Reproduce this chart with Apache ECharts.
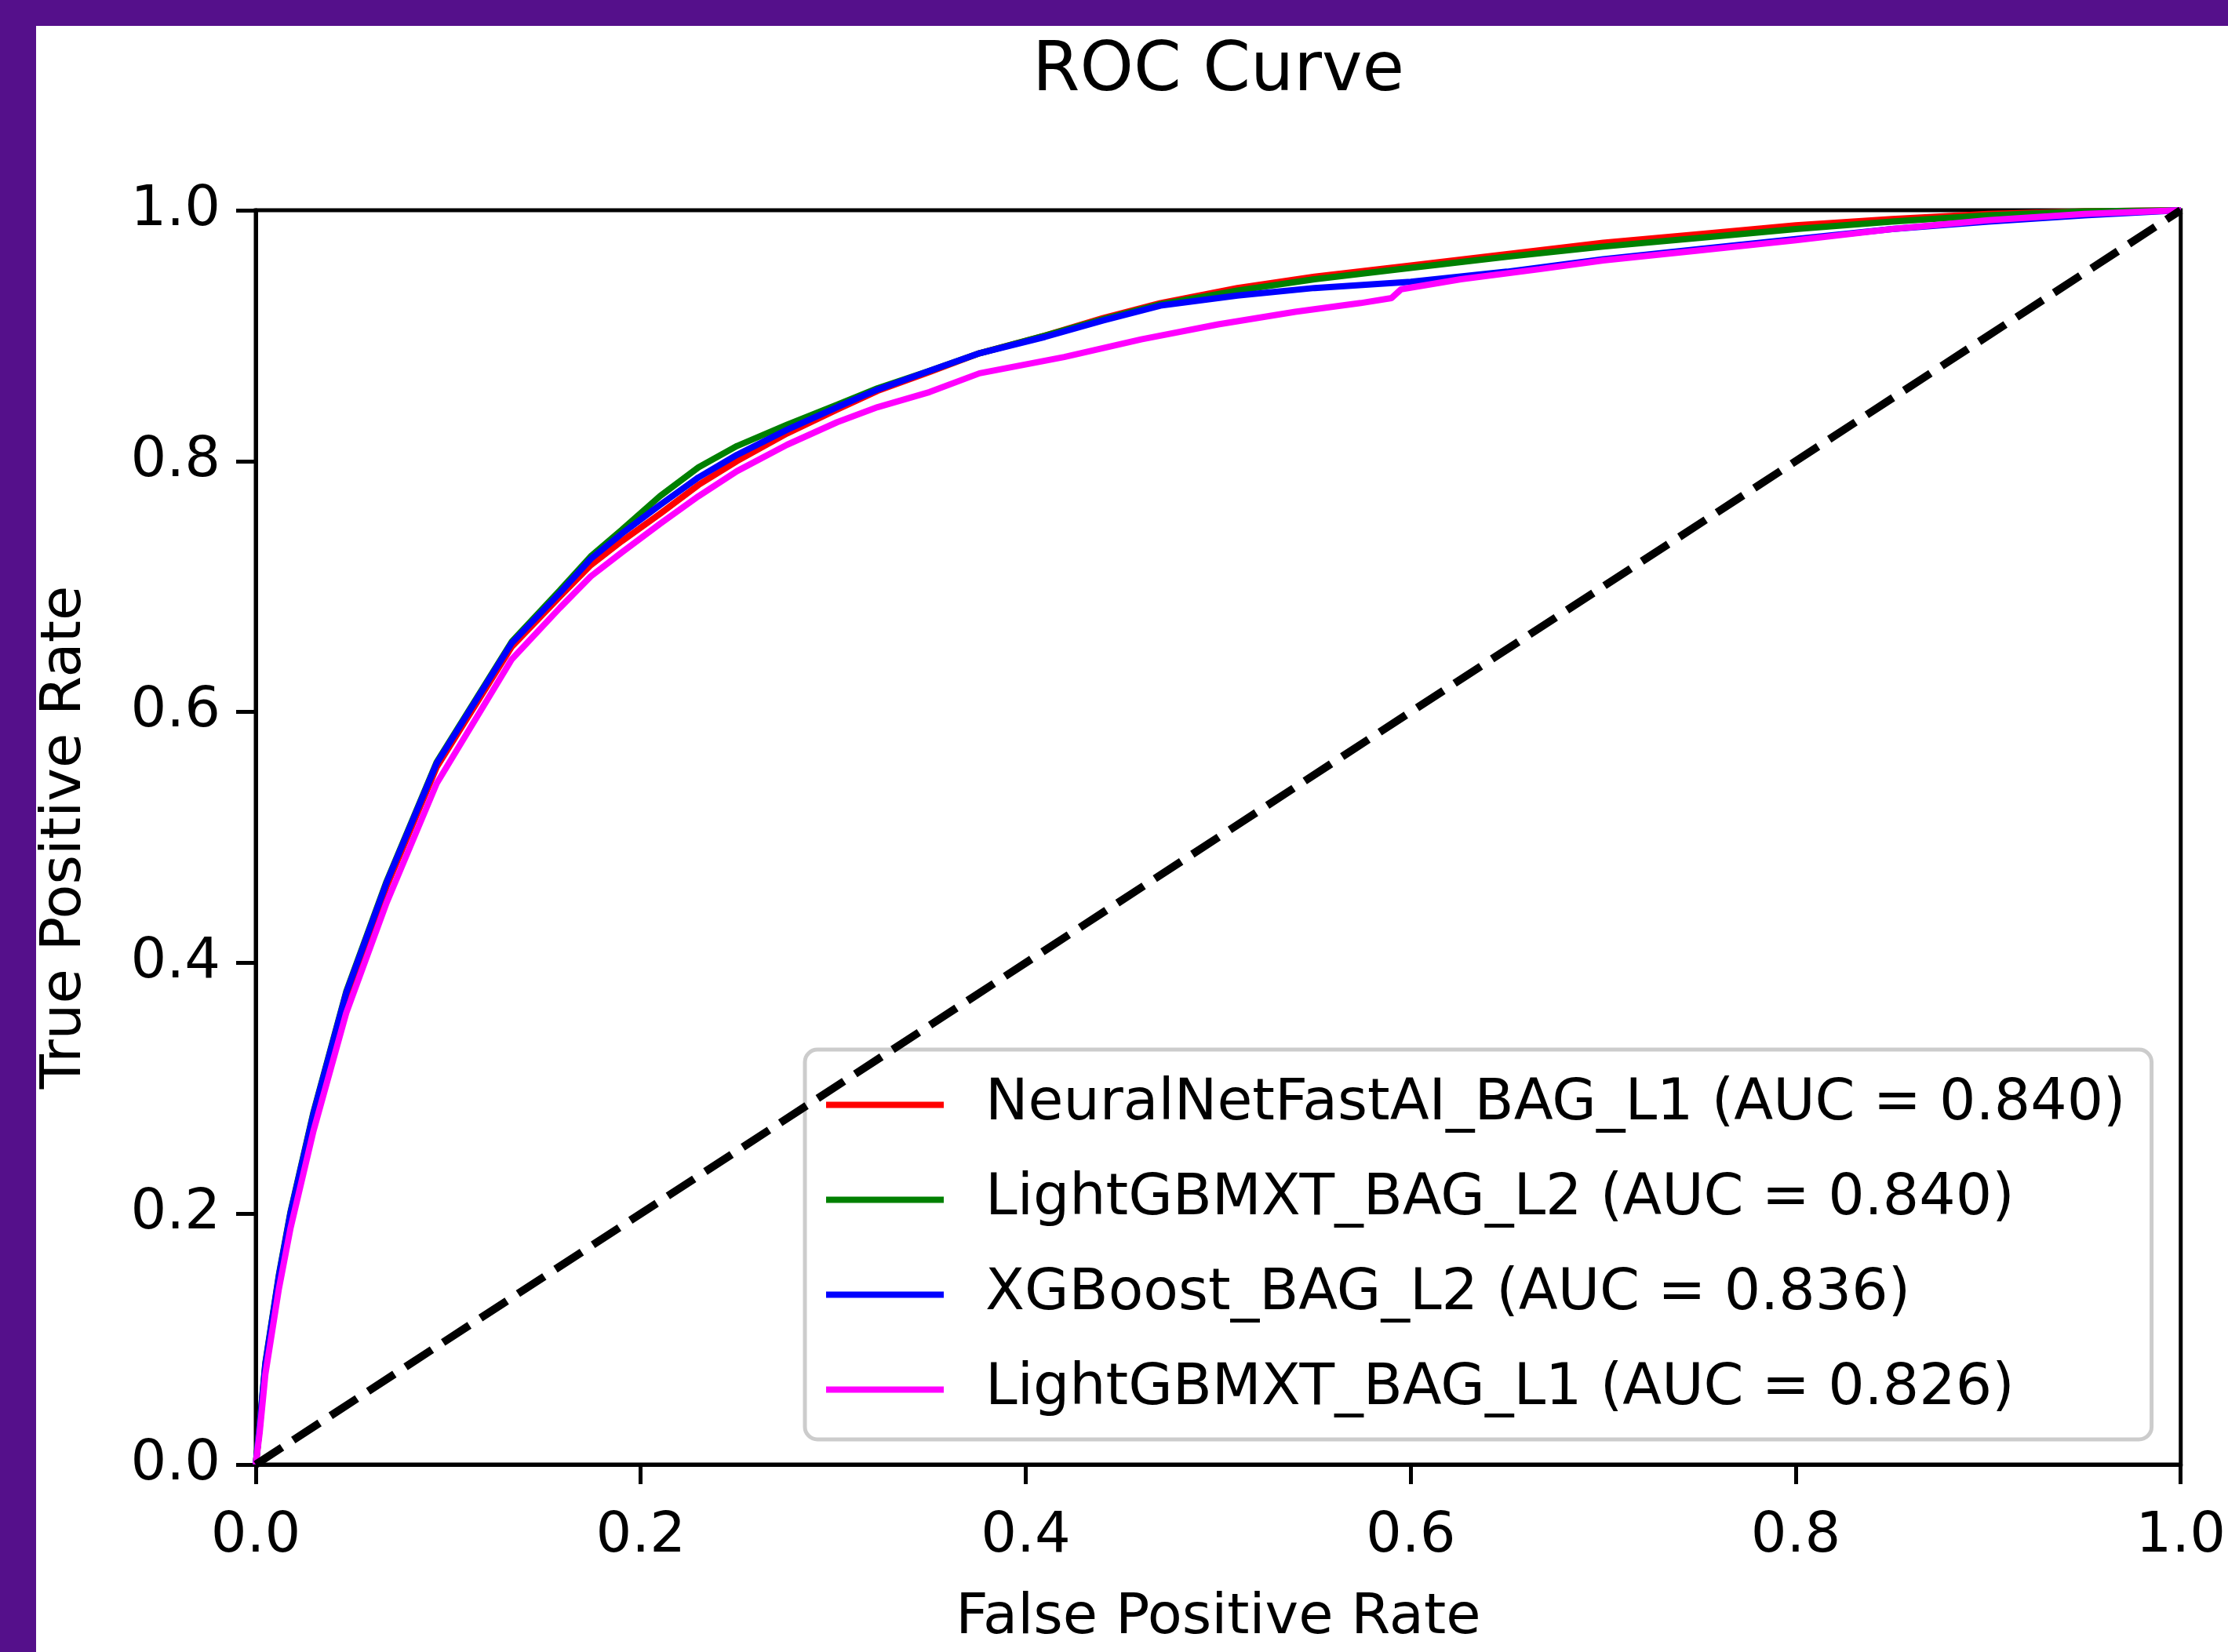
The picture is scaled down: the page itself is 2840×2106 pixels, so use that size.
<!DOCTYPE html>
<html>
<head>
<meta charset="utf-8">
<script src="https://cdn.jsdelivr.net/npm/echarts@6/dist/echarts.min.js"></script>
<style>
html,body{margin:0;padding:0;background:#55108B;}
#chart{width:2840px;height:2106px;}
</style>
</head>
<body>
<div id="chart"></div>
<script>
// ---- data ----
const seriesNames = [
  'NeuralNetFastAI_BAG_L1 (AUC = 0.840)',
  'LightGBMXT_BAG_L2 (AUC = 0.840)',
  'XGBoost_BAG_L2 (AUC = 0.836)',
  'LightGBMXT_BAG_L1 (AUC = 0.826)'
];
const seriesColors = ['#ff0000', '#008000', '#0000ff', '#ff00ff'];

const fprNN = [0, 0.002, 0.005, 0.012, 0.018, 0.03, 0.047, 0.068, 0.094, 0.133, 0.158, 0.174, 0.19, 0.21, 0.23, 0.25, 0.276, 0.302, 0.323, 0.35, 0.376, 0.41, 0.44, 0.47, 0.51, 0.55, 0.6, 0.65, 0.7, 0.75, 0.8, 0.85, 0.9, 0.95, 1.0];
const tprNN = [0, 0.029, 0.078, 0.148, 0.197, 0.277, 0.372, 0.461, 0.556, 0.652, 0.692, 0.717, 0.736, 0.758, 0.781, 0.800, 0.822, 0.841, 0.856, 0.871, 0.886, 0.900, 0.914, 0.926, 0.938, 0.947, 0.956, 0.965, 0.974, 0.981, 0.988, 0.993, 0.997, 0.999, 1.0];

const fprLGB2 = [0, 0.002, 0.005, 0.012, 0.018, 0.03, 0.047, 0.068, 0.094, 0.133, 0.158, 0.174, 0.19, 0.21, 0.23, 0.25, 0.276, 0.302, 0.323, 0.35, 0.376, 0.41, 0.44, 0.47, 0.51, 0.55, 0.6, 0.65, 0.7, 0.75, 0.8, 0.85, 0.9, 0.95, 1.0];
const tprLGB2 = [0, 0.031, 0.081, 0.151, 0.201, 0.281, 0.377, 0.465, 0.560, 0.656, 0.697, 0.724, 0.745, 0.772, 0.795, 0.812, 0.829, 0.845, 0.858, 0.872, 0.886, 0.900, 0.913, 0.925, 0.936, 0.945, 0.954, 0.963, 0.971, 0.978, 0.985, 0.991, 0.996, 0.999, 1.0];

const fprXGB = [0, 0.002, 0.005, 0.012, 0.018, 0.03, 0.047, 0.068, 0.094, 0.133, 0.158, 0.174, 0.19, 0.21, 0.23, 0.25, 0.276, 0.302, 0.323, 0.35, 0.376, 0.41, 0.44, 0.47, 0.51, 0.55, 0.6, 0.65, 0.7, 0.75, 0.8, 0.85, 0.9, 0.95, 1.0];
const tprXGB = [0, 0.030, 0.080, 0.150, 0.200, 0.280, 0.376, 0.464, 0.559, 0.655, 0.695, 0.722, 0.742, 0.765, 0.787, 0.805, 0.825, 0.843, 0.857, 0.872, 0.886, 0.899, 0.912, 0.924, 0.932, 0.938, 0.943, 0.951, 0.961, 0.969, 0.977, 0.985, 0.991, 0.996, 1.0];

const fprLGB1 = [0, 0.002, 0.005, 0.012, 0.018, 0.03, 0.047, 0.068, 0.094, 0.133, 0.158, 0.174, 0.19, 0.21, 0.23, 0.25, 0.276, 0.302, 0.323, 0.35, 0.376, 0.42, 0.46, 0.50, 0.54, 0.574, 0.59, 0.595, 0.626, 0.667, 0.7, 0.75, 0.8, 0.85, 0.9, 0.95, 1.0];
const tprLGB1 = [0, 0.025, 0.072, 0.140, 0.188, 0.266, 0.360, 0.448, 0.543, 0.642, 0.683, 0.708, 0.727, 0.750, 0.772, 0.792, 0.813, 0.831, 0.843, 0.855, 0.870, 0.883, 0.897, 0.909, 0.919, 0.926, 0.930, 0.937, 0.945, 0.953, 0.960, 0.968, 0.976, 0.985, 0.992, 0.997, 1.0];

const diagX = [0, 1];
const diagY = [0, 1];

const xTicks = [0, 0.2, 0.4, 0.6, 0.8, 1.0];
const yTicks = [0, 0.2, 0.4, 0.6, 0.8, 1.0];

// ---- chart ----
const FONT = 'DejaVu Sans';
const pairs = (xs, ys) => xs.map((x, i) => [x, ys[i]]);
const curves = [
  pairs(fprNN, tprNN),
  pairs(fprLGB2, tprLGB2),
  pairs(fprXGB, tprXGB),
  pairs(fprLGB1, tprLGB1)
];

const chart = echarts.init(document.getElementById('chart'), null, {renderer: 'canvas'});

const axisCommon = {
  type: 'value', min: 0, max: 1, interval: 0.2,
  axisLine: {show: true, onZero: false, lineStyle: {color: '#000', width: 5}},
  axisTick: {show: true, inside: false, length: 25, lineStyle: {color: '#000', width: 5}},
  splitLine: {show: false},
  nameTextStyle: {fontFamily: FONT, fontSize: 72, color: '#000'}
};

const lineSeries = curves.map((d, i) => ({
  name: seriesNames[i],
  type: 'line',
  data: d,
  showSymbol: false,
  symbol: 'none',
  clip: true,
  z: 2 + i,
  lineStyle: {color: seriesColors[i], width: 8},
  itemStyle: {color: seriesColors[i]},
  animation: false
}));

lineSeries.push({
  name: 'diagonal',
  type: 'line',
  data: pairs(diagX, diagY),
  showSymbol: false,
  symbol: 'none',
  z: 7,
  lineStyle: {color: '#000', width: 10, type: [40, 17]},
  animation: false
});

chart.setOption({
  backgroundColor: '#55108B',
  animation: false,
  graphic: [{
    type: 'rect', z: -100,
    shape: {x: 46, y: 33, width: 2794, height: 2073},
    style: {fill: '#ffffff'}
  }],
  title: {
    text: 'ROC Curve',
    left: 1553, top: 49, textAlign: 'center', padding: 0,
    textStyle: {fontFamily: FONT, fontSize: 87, fontWeight: 'normal', color: '#000'}
  },
  grid: {
    left: 326, top: 268, width: 2455, height: 1599,
    show: true, borderColor: '#000', borderWidth: 5, backgroundColor: 'transparent'
  },
  xAxis: Object.assign({}, axisCommon, {
    name: 'False Positive Rate', nameLocation: 'middle', nameGap: 160,
    axisLabel: {
      fontFamily: FONT, fontSize: 72, color: '#000', margin: 56,
      formatter: v => xTicks.some(t => Math.abs(t - v) < 1e-9) ? v.toFixed(1) : ''
    }
  }),
  yAxis: Object.assign({}, axisCommon, {
    name: 'True Positive Rate', nameLocation: 'middle', nameGap: 207,
    axisLabel: {
      fontFamily: FONT, fontSize: 72, color: '#000', margin: 45,
      formatter: v => yTicks.some(t => Math.abs(t - v) < 1e-9) ? v.toFixed(1) : ''
    }
  }),
  legend: {
    data: seriesNames,
    orient: 'vertical',
    left: 1026, top: 1338,
    icon: 'rect', itemWidth: 150, itemHeight: 8,
    itemGap: 48,
    padding: [34, 33, 27, 27],
    backgroundColor: 'rgba(255,255,255,0.8)',
    borderColor: '#cccccc', borderWidth: 5, borderRadius: 16,
    textStyle: {fontFamily: FONT, fontSize: 73, color: '#000', lineHeight: 72, padding: [0, 0, 0, 48]},
    selectedMode: false
  },
  series: lineSeries
});
</script>
</body>
</html>
